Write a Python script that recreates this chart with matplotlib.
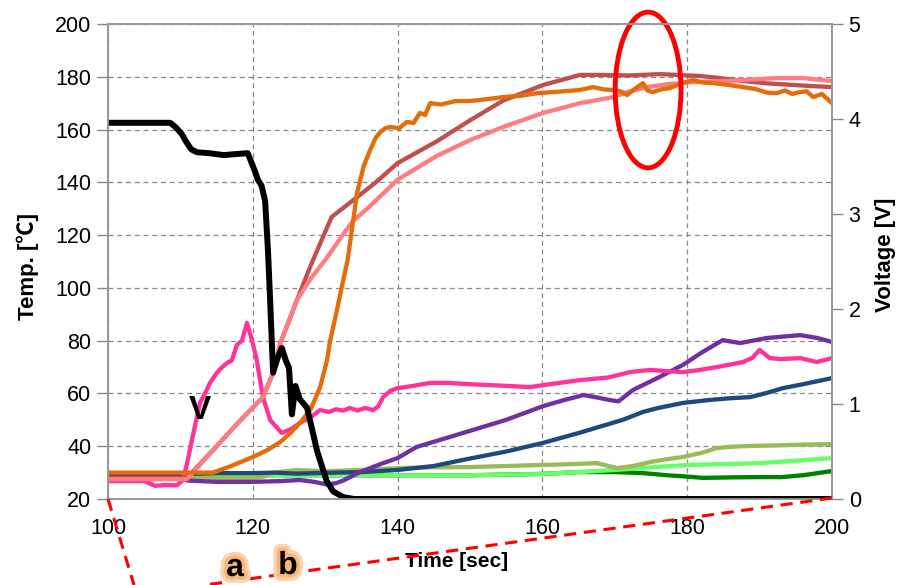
import matplotlib
matplotlib.use("Agg")
import matplotlib.pyplot as plt
from matplotlib.patches import Ellipse
from matplotlib.lines import Line2D
import matplotlib.patheffects as pe

# ---------------- data ----------------
t_dkgreen = [100, 111, 120, 130, 140, 150, 160, 165, 170, 174, 177.2, 180, 182.2, 186, 190, 193, 196, 198, 200]
T_dkgreen = [28.5, 28.5, 29, 29, 29, 29, 29.5, 30.2, 30.2, 29.8, 29, 28.5, 28, 28.2, 28.3, 28.3, 29, 29.8, 30.6]

t_ltgreen = [100, 111, 120, 130, 140, 150, 160, 165, 170, 175, 180, 185, 190, 195, 200]
T_ltgreen = [28.5, 28.5, 28.8, 29.1, 29, 29, 29.5, 30.2, 31, 32, 32.9, 33.2, 33.6, 34.5, 35.5]

t_olive = [100, 111, 115, 120, 121.5, 123, 126, 130, 135, 140, 145, 150, 155, 160, 165, 167.5,
           170.3, 172.5, 174.9, 177, 179.4, 182, 184.1, 186, 188.7, 192, 196, 200]
T_olive = [29, 28.5, 28, 28, 28.5, 30, 31, 30.5, 31, 31.7, 32, 32.1, 32.5, 32.9, 33.3, 33.6,
           31.7, 32.5, 34, 35, 35.9, 37.5, 39.3, 39.8, 40.1, 40.3, 40.6, 40.8]

t_navy = [100, 111, 115, 120, 123, 126, 130, 135, 140, 145, 149, 155, 160, 165, 171.1, 173.9,
          176, 179.4, 183, 186, 188.7, 191, 193.2, 196, 200]
T_navy = [29.5, 29.5, 29.8, 29.8, 30, 29.6, 29.9, 30.2, 31, 32.5, 34.8, 38, 41.2, 45, 50, 53,
          54.5, 56.4, 57.5, 58.2, 58.6, 60.2, 62, 63.5, 65.8]

t_purple = [100, 110, 111, 115, 120, 124, 126.5, 128.5, 130.2, 131.5, 132.5, 134.8, 138, 140,
            142.6, 147.2, 149, 155, 160.1, 163, 165.7, 167.5, 169.3, 170.5, 172.5, 176, 179.4,
            182, 184.9, 187.3, 191, 195.6, 198, 200]
T_purple = [28, 28, 27, 26.5, 26.5, 26.8, 27.2, 26.5, 25.5, 26, 27, 30.2, 33.6, 35.5,
            39.7, 43.5, 45, 50, 55.2, 57.5, 59.4, 58.5, 57.5, 57, 61.3, 66, 70.8,
            75.5, 80.2, 79.1, 81, 82.1, 81, 79.5]

t_pink = [100, 105, 106.5, 108, 109.5, 110.3, 110.8, 111.8, 112.7, 113.4, 114.1, 115.0, 115.6,
          116.4, 117.1, 117.8, 118.5, 119.2, 119.8, 120.5, 121.4, 122.4, 124.0, 125.3, 126.5,
          128, 129.3, 130.5, 131.5, 132.5, 133.4, 134.5, 135.5, 136.6, 137.3, 138.0, 139.0,
          140, 142, 144.5, 147, 150, 154, 158.3, 161, 165, 169, 172.1, 174.9, 177, 179.4,
          181.5, 184.1, 186, 187.7, 189, 190, 191.4, 193, 195.6, 197.9, 200]
T_pink = [26.8, 26.8, 25, 25.3, 25.2, 27, 32, 45, 56.4, 60, 64, 67.7, 69.5,
          71.5, 72.5, 78.4, 80, 86.7, 81, 73.4, 58.6, 49.9, 45, 46.5, 48.8,
          51, 53.7, 53, 54, 53.5, 54.5, 53.5, 54.5, 53.7, 55, 58.6, 61,
          62, 62.8, 64, 64, 63.5, 63, 62.4, 63.5, 65, 66, 68.1, 68.9, 68.5, 68.1,
          68.8, 70, 71, 71.9, 73.5, 76.5, 73.4, 73, 73.4, 71.9, 73.4]

t_brick = [100, 110.9, 115, 118, 121.4, 122.8, 123.8, 126.1, 128, 129.8, 130.9, 133.9, 137, 140,
           145.4, 150, 154.6, 160.1, 165.2, 168, 172, 176.2, 181.8, 184.5, 187.7, 191, 194.6, 197, 200]
T_brick = [28, 28, 40, 49, 58.6, 67.7, 79, 95.4, 108.5, 120, 126.9, 133.3, 140, 147.3,
           155.5, 163.5, 171, 176.9, 180.7, 180.7, 180.5, 181, 180.3, 179.5, 178.4, 177.5, 176.9, 176.5, 176.1]

t_salmon = [100, 110.9, 115, 118, 121.4, 122.8, 123.8, 125, 126.1, 128, 130.2, 132.4, 133.9, 136.2,
            140, 145.4, 150, 154.6, 160.1, 165.2, 169.8, 171.7, 174.4, 177.6, 181, 185.5, 192.4, 196, 200]
T_salmon = [27.5, 27.5, 40, 49, 58.6, 67.7, 79, 87.5, 95.4, 103.5, 111.3, 120, 125.5, 131,
            141, 150, 156, 161, 166.3, 170, 172.3, 174.2, 176.1, 177.3, 178, 178.4, 179.5, 179.5, 178.4]

t_orange = [100, 111, 114.5, 117, 120, 122, 123.8, 125.2, 126.5, 128, 129.3, 130.2, 130.7, 131.5,
            132.2, 133.1, 134.4, 135.3, 136.2, 137.0, 137.6, 138.3, 139.0, 140.2, 141.3, 142.2,
            143.1, 143.8, 144.5, 146, 148, 150, 152.3, 154.6, 157, 159.3, 161.5, 163.5, 165.2,
            167, 168.5, 169.8, 170.8, 171.7, 172.8, 173.9, 174.5, 175.3, 176.5, 177.6, 179.2,
            180.8, 182.2, 183.6, 185.5, 187.7, 189.5, 191, 192.4, 193.5, 194.5, 195.6, 196.5,
            197.4, 198.6, 200]
T_orange = [30, 30, 30, 32.5, 35.9, 38.5, 41.6, 45, 48.8, 54, 62.4, 72, 80.2, 90,
            99.2, 110.6, 136, 146, 152.2, 157, 159, 160.5, 161, 160.5, 162.9, 162.5,
            166.3, 165.5, 170, 169.5, 170.8, 170.8, 171.5, 172.3, 172.8, 173.8, 174.2, 174.6, 175,
            176.1, 175.2, 175, 174.5, 173.1, 175.5, 177.6, 174.8, 174.2, 175.3, 175.7, 177.5,
            178.8, 177.8, 177.6, 177, 176.1, 175.3, 174, 173.8, 174.8, 173.5, 174.2, 174.5,
            172.3, 173.5, 170]

t_volt = [100, 108.6, 109.4, 110.2, 110.8, 111.5, 112.3, 114, 116, 117.5, 119.3, 120.3, 120.7,
          121.2, 121.7, 122.1, 122.4, 122.8, 123.4, 124.0, 124.6, 125.0, 125.4, 125.9, 126.5,
          127.5, 128.9, 130.2, 131.1, 132.5, 134, 200]
v_volt = [3.96, 3.96, 3.91, 3.84, 3.76, 3.68, 3.65, 3.64, 3.62, 3.63, 3.64, 3.45, 3.36,
          3.30, 3.14, 2.61, 2.08, 1.33, 1.48, 1.59, 1.45, 1.38, 0.89, 1.19, 1.05,
          0.96, 0.5, 0.19, 0.08, 0.02, 0.0, 0.0]

x_ticks = [100, 120, 140, 160, 180, 200]
temp_ticks = [20, 40, 60, 80, 100, 120, 140, 160, 180, 200]
volt_ticks = [0, 1, 2, 3, 4, 5]

# ---------------- figure ----------------
W, H = 905, 585
fig = plt.figure(figsize=(W / 100, H / 100), dpi=100)
L, R, B, T = 108, 832, 499, 24
ax = fig.add_axes([L / W, 1 - B / H, (R - L) / W, (B - T) / H])

fams = ["Liberation Sans", "Noto Sans CJK JP", "DejaVu Sans"]
tick_font = dict(family=fams, size=15.5)
lab_font = dict(family=fams, size=15, weight="bold")

lw = 3.1
ax.plot(t_dkgreen, T_dkgreen, color="#008000", lw=lw)
ax.plot(t_ltgreen, T_ltgreen, color="#66FF66", lw=lw)
ax.plot(t_olive, T_olive, color="#9BBB59", lw=lw)
ax.plot(t_navy, T_navy, color="#1F497D", lw=lw)
ax.plot(t_purple, T_purple, color="#7030A0", lw=lw)
ax.plot(t_pink, T_pink, color="#FF3399", lw=lw)
ax.plot(t_brick, T_brick, color="#C0504D", lw=lw)
ax.plot(t_salmon, T_salmon, color="#FF7C80", lw=lw)
ax.plot(t_orange, T_orange, color="#E46C0A", lw=lw)

ax.set_xlim(100, 200)
ax.set_ylim(20, 200)
ax.set_xticks(x_ticks)
ax.set_yticks(temp_ticks)
ax.set_xticklabels([str(v) for v in x_ticks], fontdict=tick_font)
ax.set_yticklabels([str(v) for v in temp_ticks], fontdict=tick_font)
ax.tick_params(axis="x", length=0, pad=14)
ax.tick_params(axis="y", length=8, width=1, color="#888888", pad=4, direction="out")
ax.grid(True, color="#888888", linestyle=(0, (4, 3)), lw=0.9)
for s in ax.spines.values():
    s.set_color("#999999")
    s.set_linewidth(1.3)

ax.set_xlabel("Time [sec]", fontdict=lab_font)
ax.xaxis.set_label_coords(0.482, -0.112)
ax.set_ylabel("Temp. [\u2103]", fontdict=dict(family=fams, size=16, weight="bold"))
ax.yaxis.set_label_coords(-0.095, 0.49)

ax2 = ax.twinx()
ax2.plot(t_volt, v_volt, color="black", lw=4.3, solid_joinstyle="round", solid_capstyle="butt")
ax2.set_ylim(0, 5)
ax2.set_yticks(volt_ticks)
ax2.set_yticklabels([str(v) for v in volt_ticks], fontdict=tick_font)
ax2.tick_params(axis="y", length=8, width=1, color="#888888", pad=4, direction="out")
for s in ax2.spines.values():
    s.set_color("#999999")
    s.set_linewidth(1.3)
ax2.set_ylabel("Voltage [V]", fontdict=dict(family=fams, size=16, weight="bold"))
ax2.yaxis.set_label_coords(1.06, 0.515)

# annotations
ax.text(112.7, 53.7, "V", fontsize=24, fontweight="bold", ha="center", va="center",
        family="Liberation Sans")
ell = Ellipse((174.6, 175), 9.1, 59, fill=False, edgecolor="red", lw=3.5, clip_on=False, zorder=10)
ax.add_patch(ell)

glow = [pe.withStroke(linewidth=10, foreground="#FCD3AC"),
        pe.withStroke(linewidth=5, foreground="#F9B67A")]
fig.text(235 / W, 1 - 568 / H, "a", fontsize=23, fontweight="bold", ha="center", va="center",
         family="Liberation Sans", path_effects=glow)
fig.text(288 / W, 1 - 566 / H, "b", fontsize=23, fontweight="bold", ha="center", va="center",
         family="Liberation Sans", path_effects=glow)

fig.add_artist(Line2D([108 / W, 134 / W], [1 - 499 / H, 1 - 585 / H], color="red", lw=2.2,
                      linestyle=(0, (4, 2.5)), transform=fig.transFigure))
fig.add_artist(Line2D([832 / W, 205 / W], [1 - 498 / H, 1 - 585 / H], color="red", lw=2.2,
                      linestyle=(0, (4, 2.5)), transform=fig.transFigure))

fig.savefig("out.png", dpi=100)
